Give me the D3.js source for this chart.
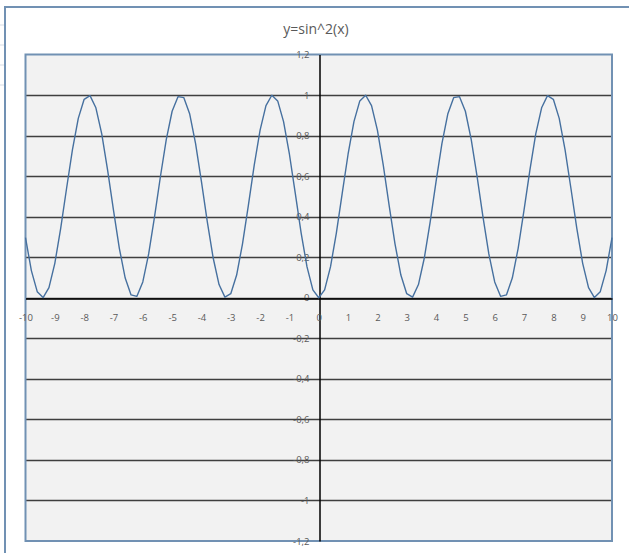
<!DOCTYPE html>
<html>
<head>
<meta charset="utf-8">
<script src="https://cdn.jsdelivr.net/npm/d3@7"></script>
<style>
html,body{margin:0;padding:0;background:#fff;}
svg{display:block;}
</style>
</head>
<body>
<svg id="chart" width="629" height="553"></svg>
<script>
const title = "y=sin^2(x)";
const xValues = [-10,-9.8,-9.6,-9.4,-9.2,-9,-8.8,-8.6,-8.4,-8.2,-8,-7.8,-7.6,-7.4,-7.2,-7,-6.8,-6.6,-6.4,-6.2,-6,-5.8,-5.6,-5.4,-5.2,-5,-4.8,-4.6,-4.4,-4.2,-4,-3.8,-3.6,-3.4,-3.2,-3,-2.8,-2.6,-2.4,-2.2,-2,-1.8,-1.6,-1.4,-1.2,-1,-0.8,-0.6,-0.4,-0.2,0,0.2,0.4,0.6,0.8,1,1.2,1.4,1.6,1.8,2,2.2,2.4,2.6,2.8,3,3.2,3.4,3.6,3.8,4,4.2,4.4,4.6,4.8,5,5.2,5.4,5.6,5.8,6,6.2,6.4,6.6,6.8,7,7.2,7.4,7.6,7.8,8,8.2,8.4,8.6,8.8,9,9.2,9.4,9.6,9.8,10];
const yValues = [0.296,0.134,0.030,0.001,0.050,0.170,0.342,0.539,0.730,0.885,0.979,0.997,0.937,0.808,0.630,0.432,0.244,0.097,0.014,0.007,0.078,0.216,0.399,0.597,0.780,0.920,0.992,0.987,0.906,0.760,0.573,0.374,0.196,0.065,0.003,0.020,0.112,0.266,0.456,0.654,0.827,0.948,0.999,0.971,0.869,0.708,0.515,0.319,0.152,0.039,
0,0.039,0.152,0.319,0.515,0.708,0.869,0.971,0.999,0.948,0.827,0.654,0.456,0.266,0.112,0.020,0.003,0.065,0.196,0.374,0.573,0.760,0.906,0.987,0.992,0.920,0.780,0.597,0.399,0.216,0.078,0.007,0.014,0.097,0.244,0.432,0.630,0.808,0.937,0.997,0.979,0.885,0.730,0.539,0.342,0.170,0.050,0.001,0.030,0.134,0.296];
const xTicks = [-10,-9,-8,-7,-6,-5,-4,-3,-2,-1,0,1,2,3,4,5,6,7,8,9,10];
const yTicks = [-1.2,-1,-0.8,-0.6,-0.4,-0.2,0,0.2,0.4,0.6,0.8,1,1.2];
const xDomain = [-10,10];
const yDomain = [-1.2,1.2];

const svg = d3.select("#chart");
const font = "'Open Sans', 'DejaVu Sans', sans-serif";
const labelColor = "#595959";
const borderColor = "#7191b3";

// faint spreadsheet marks behind chart
const bg = svg.append("g");
[25,45,65,85].forEach(y=>bg.append("line").attr("x1",0).attr("x2",4).attr("y1",y).attr("y2",y).attr("stroke","#d6dce5").attr("stroke-width",1));

// outer chart border (cut off at right/bottom)
svg.append("path")
  .attr("d","M5,560 L5,7 L640,7")
  .attr("fill","none").attr("stroke",borderColor).attr("stroke-width",2);

const L=25.5, R=612, T=54.5, B=541;
const x = d3.scaleLinear().domain(xDomain).range([L,R]);
const y = d3.scaleLinear().domain(yDomain).range([B,T]);

// plot area
svg.append("rect").attr("x",L).attr("y",T).attr("width",R-L).attr("height",B-T)
  .attr("fill","#f2f2f2");

// gridlines
svg.append("g").selectAll("line")
  .data(yTicks.filter(v=>Math.abs(v)<1.1))
  .join("line")
  .attr("x1",L).attr("x2",R)
  .attr("y1",d=>Math.round(y(d))+0.5).attr("y2",d=>Math.round(y(d))+0.5)
  .attr("stroke","#3f3f3f").attr("stroke-width",1.6);

// plot border
svg.append("rect").attr("x",L).attr("y",T).attr("width",R-L).attr("height",B-T)
  .attr("fill","none").attr("stroke",borderColor).attr("stroke-width",2);

// y axis at x=0
const yAxis = d3.axisLeft(y).tickValues(yTicks).tickSize(0).tickPadding(10)
  .tickFormat(d=>String(+d.toFixed(1)).replace(".",","));
const gy = svg.append("g").attr("transform",`translate(${Math.round(x(0))+0.5},0)`).call(yAxis);
gy.select(".domain").attr("stroke","#000").attr("stroke-width",1.5);
gy.selectAll("text").attr("fill",labelColor).style("font-family",font).style("font-size","9.5px");

// x axis at y=0
const xAxis = d3.axisBottom(x).tickValues(xTicks).tickSize(0).tickPadding(16)
  .tickFormat(d=>String(d));
const gx = svg.append("g").attr("transform",`translate(0,${Math.round(y(0))+0.5})`).call(xAxis);
gx.select(".domain").attr("stroke","#000").attr("stroke-width",1.5);
gx.selectAll("text").attr("fill",labelColor).style("font-family",font).style("font-size","9.5px");

// series line
const pts = xValues.map((v,i)=>[v,yValues[i]]);
svg.append("path").datum(pts)
  .attr("fill","none").attr("stroke","#46709f").attr("stroke-width",1.4)
  .attr("stroke-linejoin","round")
  .attr("d",d3.line().x(d=>x(d[0])).y(d=>y(d[1])));

// title
svg.append("text").attr("x",316).attr("y",34).attr("text-anchor","middle")
  .attr("fill",labelColor).style("font-family",font).style("font-size","14px")
  .text(title);
</script>
</body>
</html>
